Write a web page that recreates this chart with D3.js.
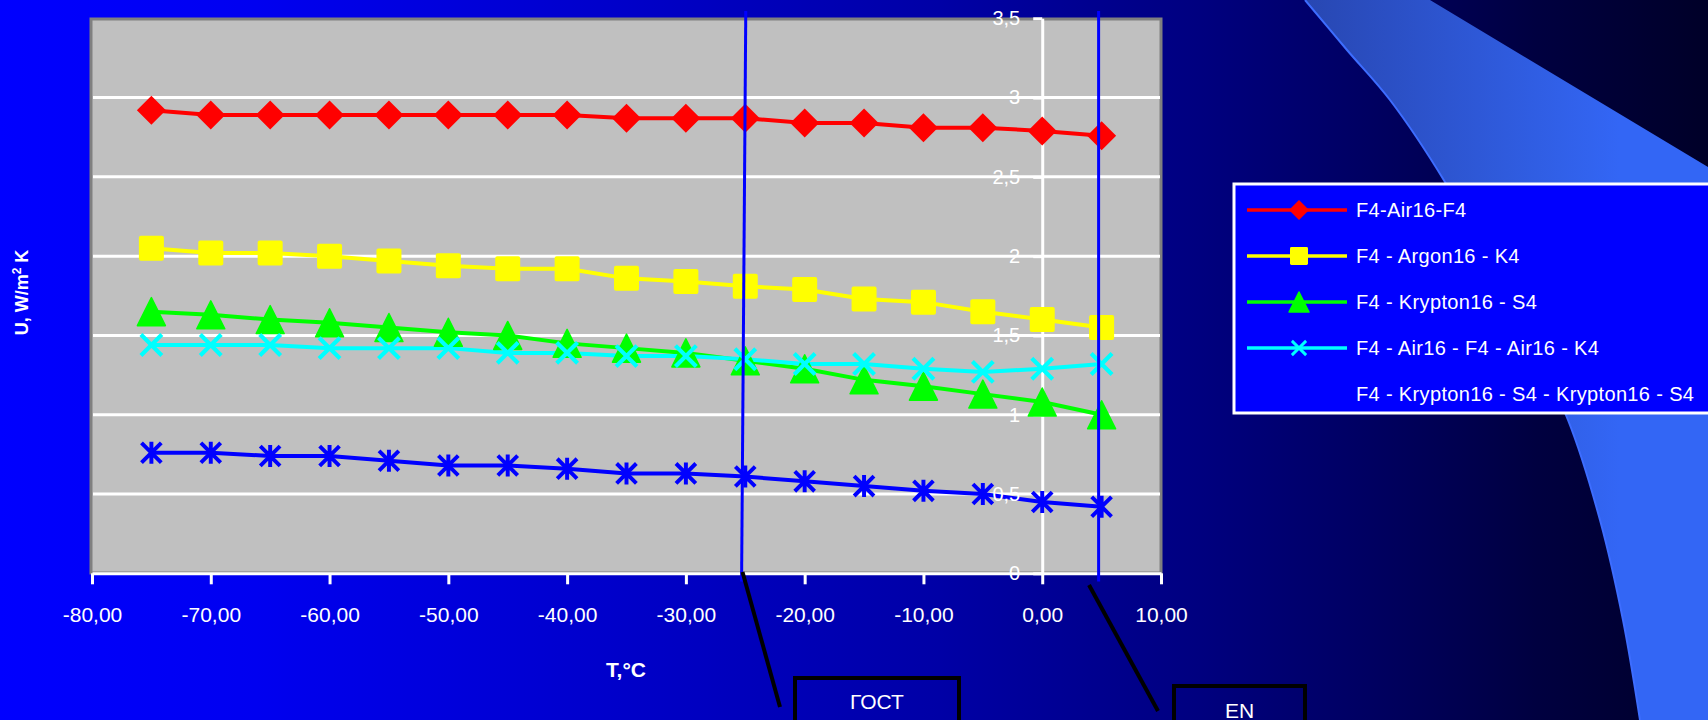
<!DOCTYPE html>
<html>
<head>
<meta charset="utf-8">
<script src="https://cdn.jsdelivr.net/npm/d3@7"></script>
<style>
  html, body { margin: 0; padding: 0; overflow: hidden; background: #0000ff; }
  svg { display: block; }
  text { font-family: "Liberation Sans", Arial, sans-serif; }
</style>
</head>
<body>
<svg id="chart" width="1708" height="720"></svg>
<script>
// Temperatures (°C) at which the U-value was computed
const temps = [-75, -70, -65, -60, -55, -50, -45, -40, -35, -30, -25, -20, -15, -10, -5, 0, 5];

// U-values, W/m²K, one array per glazing unit
const uAir = [2.92, 2.89, 2.89, 2.89, 2.89, 2.89, 2.89, 2.89, 2.87, 2.87, 2.87, 2.84, 2.84, 2.81, 2.81, 2.79, 2.76];
const uArgon = [2.05, 2.02, 2.02, 2.00, 1.97, 1.94, 1.92, 1.92, 1.86, 1.84, 1.81, 1.79, 1.73, 1.71, 1.65, 1.60, 1.55];
const uKrypton = [1.65, 1.63, 1.60, 1.58, 1.55, 1.52, 1.50, 1.45, 1.42, 1.39, 1.34, 1.29, 1.22, 1.18, 1.13, 1.08, 1.00];
const uAirTriple = [1.44, 1.44, 1.44, 1.42, 1.42, 1.42, 1.39, 1.39, 1.37, 1.37, 1.35, 1.32, 1.32, 1.29, 1.27, 1.29, 1.32];
const uKryptonTriple = [0.76, 0.76, 0.74, 0.74, 0.71, 0.68, 0.68, 0.66, 0.63, 0.63, 0.61, 0.58, 0.55, 0.52, 0.50, 0.45, 0.42];

const seriesNames = [
  "F4-Air16-F4",
  "F4 - Argon16 - K4",
  "F4 - Krypton16 - S4",
  "F4 - Air16 - F4 - Air16 - K4",
  "F4 - Krypton16 - S4 - Krypton16 - S4"
];

// Axis ticks
const xTicks = [-80, -70, -60, -50, -40, -30, -20, -10, 0, 10];
const yTicks = [0, 0.5, 1, 1.5, 2, 2.5, 3, 3.5];

// Reference temperatures marked on the chart
const markTemps = [-25, 5];
const markLabels = ["ГОСТ", "EN"];

const series = [
  { name: seriesNames[0], values: uAir, color: "#ff0000", marker: "diamond" },
  { name: seriesNames[1], values: uArgon, color: "#ffff00", marker: "square" },
  { name: seriesNames[2], values: uKrypton, color: "#00ff00", marker: "triangle" },
  { name: seriesNames[3], values: uAirTriple, color: "#00ffff", marker: "cross" },
  { name: seriesNames[4], values: uKryptonTriple, color: "#0000ff", marker: "star" }
];

const svg = d3.select("#chart");
const W = 1708, H = 720;

// ---------- background ----------
const defs = svg.append("defs");
const bg = defs.append("linearGradient").attr("id", "bg")
  .attr("gradientUnits", "userSpaceOnUse").attr("x1", 0).attr("y1", 0).attr("x2", W).attr("y2", 0);
[[0, "#0000ff"], [0.15, "#0000f0"], [0.35, "#0000cc"], [0.55, "#0000a6"],
 [0.7, "#000080"], [0.8, "#000062"], [0.9, "#000040"], [1, "#000028"]]
  .forEach(([o, c]) => bg.append("stop").attr("offset", o).attr("stop-color", c));
svg.append("rect").attr("width", W).attr("height", H).attr("fill", "url(#bg)");

const swoosh = defs.append("linearGradient").attr("id", "swoosh")
  .attr("gradientUnits", "userSpaceOnUse").attr("x1", 1305).attr("y1", 0).attr("x2", 1620).attr("y2", 0);
swoosh.append("stop").attr("offset", 0).attr("stop-color", "#2847b2");
swoosh.append("stop").attr("offset", 1).attr("stop-color", "#3366f5");

const curvePts = [[1305, 0], [1347, 50], [1390, 100], [1445, 182], [1510, 300],
                  [1568, 420], [1600, 520], [1623, 620], [1640, 720]];
const curveLine = d3.line().curve(d3.curveCatmullRom);
const edge = curveLine(curvePts);
svg.append("path")
  .attr("d", edge + "L1708,720L1708,167L1430,0Z")
  .attr("fill", "url(#swoosh)");
svg.append("path").attr("d", edge).attr("fill", "none")
  .attr("stroke", "#3d6dff").attr("stroke-width", 2);

// ---------- scales ----------
const x = d3.scaleLinear().domain([-80, 10]).range([92, 1161]);
const y = d3.scaleLinear().domain([0, 3.5]).range([573.3, 18.3]);

const loc = d3.formatLocale({ decimal: ",", thousands: " ", grouping: [3], currency: ["", ""], minus: "-" });
const xFmt = loc.format(".2f");
const yFmt = d => Number.isInteger(d) ? loc.format("d")(d) : loc.format(".1f")(d);

// ---------- plot area ----------
svg.append("rect")
  .attr("x", 91).attr("y", 19).attr("width", 1070).attr("height", 554)
  .attr("fill", "#c0c0c0").attr("stroke", "#808080").attr("stroke-width", 3);

svg.append("g").selectAll("line")
  .data(yTicks.filter(v => v > 0 && v < 3.5))
  .join("line")
  .attr("x1", 93).attr("x2", 1160)
  .attr("y1", d => y(d)).attr("y2", d => y(d))
  .attr("stroke", "#ffffff").attr("stroke-width", 3);

// x axis
const gx = svg.append("g").attr("transform", `translate(0,${y(0)})`)
  .call(d3.axisBottom(x).tickValues(xTicks).tickFormat(xFmt).tickSize(11).tickSizeOuter(0).tickPadding(23));
gx.select(".domain").attr("stroke", "#ffffff").attr("stroke-width", 3);
gx.selectAll(".tick line").attr("stroke", "#ffffff").attr("stroke-width", 3);
gx.selectAll(".tick text").attr("fill", "#ffffff").attr("font-size", 21);

// y axis at T = 0
const gy = svg.append("g").attr("transform", `translate(${x(0)},0)`)
  .call(d3.axisLeft(y).tickValues(yTicks).tickFormat(yFmt).tickSize(9).tickSizeOuter(0).tickPadding(13));
gy.select(".domain").attr("stroke", "#ffffff").attr("stroke-width", 3);
gy.selectAll(".tick line").attr("stroke", "#ffffff").attr("stroke-width", 3);
const yLabels = gy.selectAll(".tick text").attr("fill", "#ffffff").attr("font-size", 20).remove();

// ---------- series ----------
function drawMarker(g, type, color, s) {
  // s = overall marker size in px
  const h = s / 2;
  if (type === "diamond") {
    g.append("path").attr("d", `M0,${-h}L${h},0L0,${h}L${-h},0Z`).attr("fill", color);
  } else if (type === "square") {
    g.append("rect").attr("x", -h).attr("y", -h).attr("width", s).attr("height", s)
      .attr("rx", s * 0.08).attr("fill", color);
  } else if (type === "triangle") {
    g.append("path").attr("d", `M0,${-h}L${h},${h}L${-h},${h}Z`).attr("fill", color)
      .attr("stroke", color).attr("stroke-width", 1.5).attr("stroke-linejoin", "round");
  } else if (type === "cross") {
    const k = h * 0.95;
    g.append("path").attr("d", `M${-k},${-k}L${k},${k}M${-k},${k}L${k},${-k}`)
      .attr("stroke", color).attr("stroke-width", s * 0.19).attr("fill", "none");
  } else if (type === "star") {
    const k = h * 0.9;
    g.append("path").attr("d", `M${-k},${-k}L${k},${k}M${-k},${k}L${k},${-k}M0,${-h}L0,${h}`)
      .attr("stroke", color).attr("stroke-width", s * 0.18).attr("fill", "none");
  }
}

const markerSize = { diamond: 29, square: 25, triangle: 28, cross: 22, star: 22 };
const line = d3.line().x((d, i) => x(temps[i])).y(d => y(d));

const gs = svg.append("g");
series.forEach(s => {
  gs.append("path").attr("d", line(s.values)).attr("fill", "none")
    .attr("stroke", s.color).attr("stroke-width", 4).attr("stroke-linejoin", "round");
});
series.forEach(s => {
  s.values.forEach((v, i) => {
    const g = gs.append("g").attr("transform", `translate(${x(temps[i])},${y(v)})`);
    drawMarker(g, s.marker, s.color, markerSize[s.marker]);
  });
});

// y tick labels on top of the series
const gyl = svg.append("g").attr("transform", `translate(${x(0)},0)`);
gyl.selectAll("text").data(yTicks).join("text")
  .attr("x", -22).attr("y", d => y(d)).attr("dy", "0.34em")
  .attr("text-anchor", "end").attr("fill", "#ffffff").attr("font-size", 20)
  .text(yFmt);

// ---------- axis titles ----------
svg.append("text").attr("x", x(-80) + 534).attr("y", 676.5)
  .attr("text-anchor", "middle").attr("fill", "#ffffff")
  .attr("font-size", 21).attr("font-weight", "bold").text("T,°C");

const yt = svg.append("text")
  .attr("transform", "translate(28,292.5) rotate(-90)")
  .attr("text-anchor", "middle").attr("fill", "#ffffff")
  .attr("font-size", 18).attr("font-weight", "bold");
yt.append("tspan").text("U, W/m");
yt.append("tspan").attr("font-size", 12).attr("dy", -7).text("2");
yt.append("tspan").attr("dy", 7).text(" K");

// ---------- reference temperature markers ----------
const markTop = 11, markBottom = 581.5;
svg.append("line")
  .attr("x1", x(markTemps[0]) + 0.5).attr("y1", markTop)
  .attr("x2", x(markTemps[0]) - 3.7).attr("y2", markBottom)
  .attr("stroke", "#0000ff").attr("stroke-width", 3);
svg.append("line")
  .attr("x1", x(markTemps[1]) - 3).attr("y1", markTop)
  .attr("x2", x(markTemps[1]) - 3).attr("y2", markBottom)
  .attr("stroke", "#0000ff").attr("stroke-width", 3);

// leader lines and callout boxes
svg.append("line").attr("x1", 742.5).attr("y1", 572).attr("x2", 780).attr("y2", 707)
  .attr("stroke", "#000000").attr("stroke-width", 4);
svg.append("line").attr("x1", 1089).attr("y1", 585).attr("x2", 1158).attr("y2", 711)
  .attr("stroke", "#000000").attr("stroke-width", 4);

const boxes = [
  { x: 795, y: 678, w: 164, label: markLabels[0], ty: 708.5 },
  { x: 1174, y: 686, w: 131, label: markLabels[1], ty: 717.5 }
];
boxes.forEach(b => {
  svg.append("rect").attr("x", b.x).attr("y", b.y).attr("width", b.w).attr("height", 80)
    .attr("fill", "none").attr("stroke", "#000000").attr("stroke-width", 4);
  svg.append("text").attr("x", b.x + b.w / 2).attr("y", b.ty)
    .attr("text-anchor", "middle").attr("fill", "#ffffff").attr("font-size", 21).text(b.label);
});

// ---------- legend ----------
const lg = svg.append("g");
lg.append("rect").attr("x", 1234).attr("y", 184).attr("width", 490).attr("height", 229)
  .attr("fill", "#0000ff").attr("stroke", "#ffffff").attr("stroke-width", 3);
series.forEach((s, i) => {
  const cy = 210 + i * 46;
  lg.append("line").attr("x1", 1247).attr("x2", 1347).attr("y1", cy).attr("y2", cy)
    .attr("stroke", s.color).attr("stroke-width", 3.5);
  const g = lg.append("g").attr("transform", `translate(1299,${cy})`);
  drawMarker(g, s.marker, s.color, Math.round(markerSize[s.marker] * 0.7));
  lg.append("text").attr("x", 1356).attr("y", cy + 7)
    .attr("fill", "#ffffff").attr("font-size", 20).attr("letter-spacing", 0.35)
    .text(s.name);
});
</script>
</body>
</html>
